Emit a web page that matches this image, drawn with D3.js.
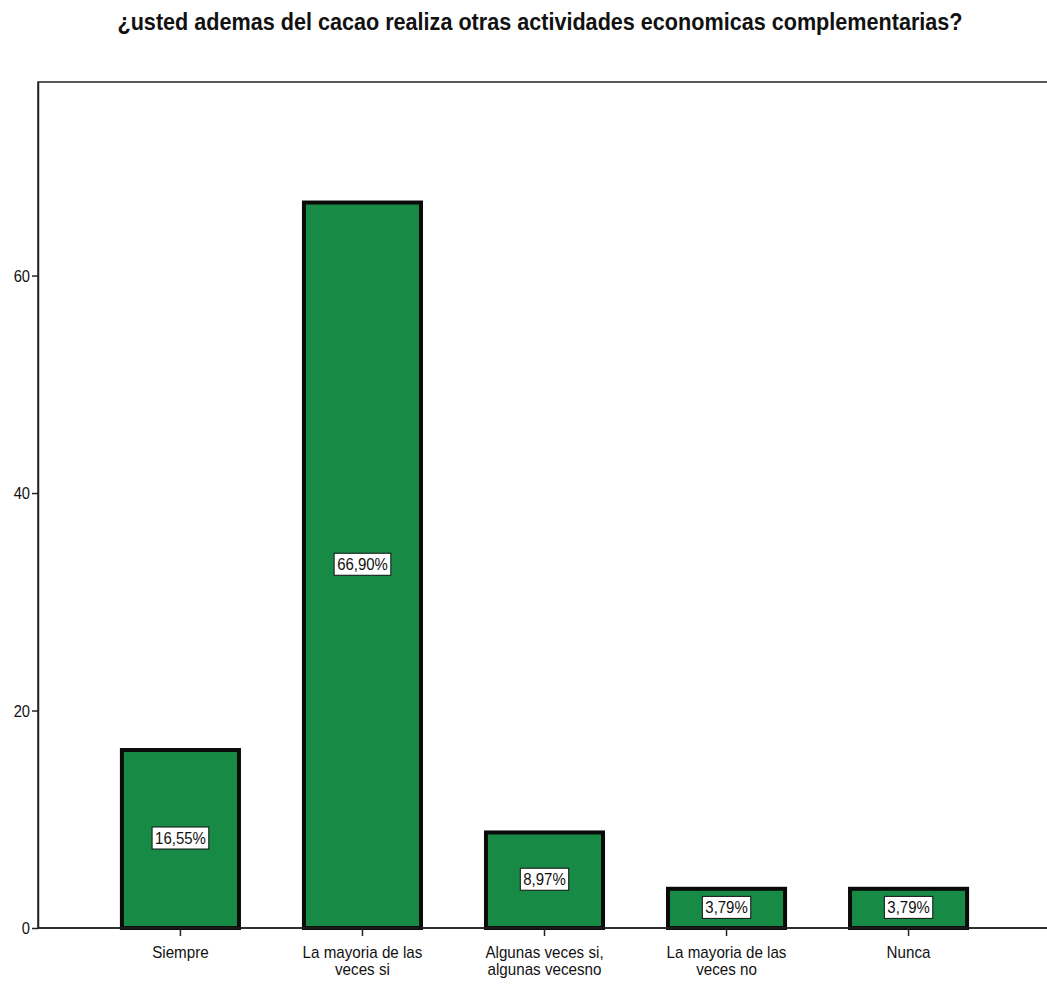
<!DOCTYPE html>
<html>
<head>
<meta charset="utf-8">
<script src="https://cdn.jsdelivr.net/npm/d3@7"></script>
<style>
  html, body { margin: 0; padding: 0; background: #fff; }
  svg { display: block; }
  text { font-family: "Liberation Sans Narrow", "Arial Narrow", "Liberation Sans", Arial, sans-serif; }
</style>
</head>
<body>
<svg id="chart" width="1047" height="991"></svg>
<script>
// Survey responses (percent of respondents)
const categories = [
  ["Siempre"],
  ["La mayoria de las", "veces si"],
  ["Algunas veces si,", "algunas vecesno"],
  ["La mayoria de las", "veces no"],
  ["Nunca"]
];
const values = [16.55, 66.90, 8.97, 3.79, 3.79];
const valueLabels = ["16,55%", "66,90%", "8,97%", "3,79%", "3,79%"];
const yTicks = [0, 20, 40, 60];
const title = "¿usted ademas del cacao realiza otras actividades economicas complementarias?";

const svg = d3.select("#chart");
const plot = { left: 38, top: 82, right: 1051, bottom: 928 };

const keys = categories.map(c => c.join(" "));
const x = d3.scaleBand()
  .domain(keys)
  .range([plot.left, plot.right])
  .paddingInner(0.335)
  .paddingOuter(0.45);

const y = d3.scaleLinear()
  .domain([0, 77.8])
  .range([plot.bottom, plot.top]);

// Condensed text: drawn at (px, py) and squeezed horizontally by k
function condensed(parent, px, py, k) {
  return parent.append("g")
    .attr("transform", `translate(${px},${py}) scale(${k},1)`)
    .append("text");
}

// Title
condensed(svg, 540, 30, 0.9)
  .attr("text-anchor", "middle")
  .attr("font-size", 24)
  .attr("font-weight", "bold")
  .attr("fill", "#111")
  .text(title);

// Plot frame
svg.append("rect")
  .attr("x", plot.left)
  .attr("y", plot.top)
  .attr("width", plot.right - plot.left)
  .attr("height", plot.bottom - plot.top)
  .attr("fill", "none")
  .attr("stroke", "#222")
  .attr("stroke-width", 1.5);

// Y axis
const yAxis = svg.append("g")
  .attr("transform", `translate(${plot.left},0)`)
  .call(d3.axisLeft(y).tickValues(yTicks).tickSize(6).tickSizeOuter(0).tickFormat(""));
yAxis.select(".domain").attr("stroke", "#222").attr("stroke-width", 1.5);
yAxis.selectAll(".tick line").attr("stroke", "#222").attr("stroke-width", 1.5);
yTicks.forEach(t => {
  condensed(svg, plot.left - 8, y(t) + 6, 0.92)
    .attr("text-anchor", "end")
    .attr("font-size", 16)
    .attr("fill", "#111")
    .text(d3.format("d")(t));
});

// Bars
svg.append("g").selectAll("rect")
  .data(values)
  .join("rect")
  .attr("x", (d, i) => x(keys[i]) + 2)
  .attr("y", d => y(d) + 2)
  .attr("width", x.bandwidth() - 4)
  .attr("height", d => y(0) - y(d) - 2)
  .attr("fill", "#178b46")
  .attr("stroke", "#0a0a0a")
  .attr("stroke-width", 4);

// X axis ticks below the zero line
const xAxis = svg.append("g")
  .attr("transform", `translate(0,${plot.bottom})`)
  .call(d3.axisBottom(x).tickSize(8).tickSizeOuter(0).tickFormat(""));
xAxis.select(".domain").remove();
xAxis.selectAll(".tick line").attr("stroke", "#222").attr("stroke-width", 1.5);

// Zero baseline
svg.append("line")
  .attr("x1", plot.left).attr("x2", plot.right)
  .attr("y1", plot.bottom).attr("y2", plot.bottom)
  .attr("stroke", "#222").attr("stroke-width", 1.5);

// Category labels
categories.forEach((lines, i) => {
  const cx = x(keys[i]) + x.bandwidth() / 2;
  lines.forEach((ln, j) => {
    condensed(svg, cx, plot.bottom + 30 + j * 17, 0.95)
      .attr("text-anchor", "middle")
      .attr("font-size", 16)
      .attr("fill", "#111")
      .text(ln);
  });
});

// Value labels inside the bars
values.forEach((v, i) => {
  const cx = x(keys[i]) + x.bandwidth() / 2;
  const boxH = 22;
  let cy = y(v / 2);
  cy = Math.min(cy, plot.bottom - 5 - boxH / 2);
  const box = svg.append("rect");
  const t = condensed(svg, cx, cy + 6, 0.88)
    .attr("text-anchor", "middle")
    .attr("font-size", 17)
    .attr("fill", "#111")
    .text(valueLabels[i]);
  const w = t.node().getComputedTextLength() * 0.88 + 6;
  box.attr("x", cx - w / 2)
    .attr("y", cy - boxH / 2)
    .attr("width", w)
    .attr("height", boxH)
    .attr("fill", "#fff")
    .attr("stroke", "#111")
    .attr("stroke-width", 1);
});
</script>
</body>
</html>
